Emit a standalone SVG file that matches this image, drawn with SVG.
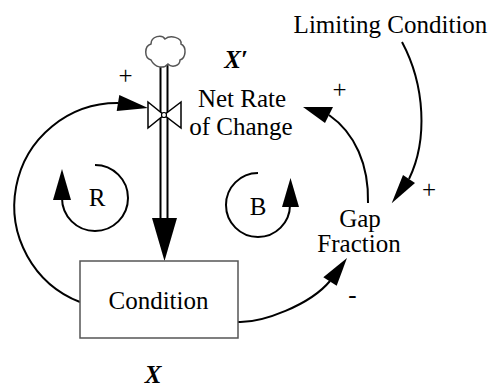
<svg xmlns="http://www.w3.org/2000/svg" width="491" height="387" viewBox="0 0 491 387">
<style>
  text { font-family: 'Liberation Serif', 'Times New Roman', serif; font-size: 25px; fill: #000; text-anchor: middle; }
  .bi { font-weight: bold; font-style: italic; }
  .c { fill: none; stroke: #000; stroke-width: 2; }
  .head { fill: #000; stroke: none; }
  .pipe { stroke: #000; stroke-width: 2; }
  .box { fill: #fff; stroke: #555; stroke-width: 1.5; }
</style>
<rect width="491" height="387" fill="#fff"/>

<g id="connectors">
  <!-- Condition -> valve -->
  <path class="c" d="M80,302 A103,103 0 0,1 118,103"/>
  <polygon class="head" points="148,108 119.3,95 116.7,111"/>
  <!-- Condition -> Gap Fraction -->
  <path class="c" d="M238,322 C262,323 310,305 330,281"/>
  <polygon class="head" points="347,258 323.3,277.3 336.7,285.7"/>
  <!-- Gap Fraction -> Net Rate -->
  <path class="c" d="M368,203 C369,165 355,133 329,115"/>
  <polygon class="head" points="303,107 333,107 325,123"/>
  <!-- Limiting Condition -> Gap Fraction -->
  <path class="c" d="M402,42 C425,85 428,140 409,179"/>
  <polygon class="head" points="391.7,203.3 403,175 415,183"/>
  <!-- flow pipe -->
  <line class="pipe" x1="160.5" y1="65" x2="160.5" y2="219"/>
  <line class="pipe" x1="167.5" y1="65" x2="167.5" y2="219"/>
  <polygon class="head" points="152,218 177,218 164.5,261"/>
  <!-- polarities -->
  <text x="125.5" y="84">+</text>
  <text x="339.5" y="98">+</text>
  <text x="429" y="198">+</text>
  <text x="352.5" y="303">-</text>
</g>

<g id="cloud">
  <path d="M151,60 C144,58 144,46 151,44 C151,36 162,34 165,39 C170,35 182,37 181,44 C187,47 186,58 180,60 C180,66 172,68 168,64 C164,69 155,68 151,60 Z" fill="#fff" stroke="#555" stroke-width="1.5"/>
</g>

<g id="valve">
  <polygon points="148,102 164,115 148,128" fill="#fff" stroke="#000" stroke-width="1.5"/>
  <polygon points="181,102 164,115 181,128" fill="#fff" stroke="#000" stroke-width="1.5"/>
  <circle cx="164" cy="115" r="2.5" fill="#fff" stroke="#000" stroke-width="1.2"/>
</g>

<g id="net-rate">
  <text class="bi" x="236" y="68">X′</text>
  <text x="242" y="107">Net Rate</text>
  <text x="241" y="135">of Change</text>
</g>

<g id="condition">
  <rect class="box" x="80" y="261" width="158" height="77"/>
  <text x="158.5" y="309">Condition</text>
  <text class="bi" x="153" y="383">X</text>
</g>

<g id="gap-fraction">
  <text x="360" y="227">Gap</text>
  <text x="359" y="252">Fraction</text>
</g>

<g id="limiting-condition">
  <text x="390.5" y="33">Limiting Condition</text>
</g>

<g id="loop-R">
  <path class="c" d="M95,165 A33,33 0 1,1 62,198"/>
  <polygon class="head" points="53,200 71,200 62,169"/>
  <text x="97" y="205.5">R</text>
</g>

<g id="loop-B">
  <path class="c" d="M258,173 A32,32 0 1,0 290,205"/>
  <polygon class="head" points="282,207 299,207 290.5,178"/>
  <text x="258" y="215">B</text>
</g>
</svg>
